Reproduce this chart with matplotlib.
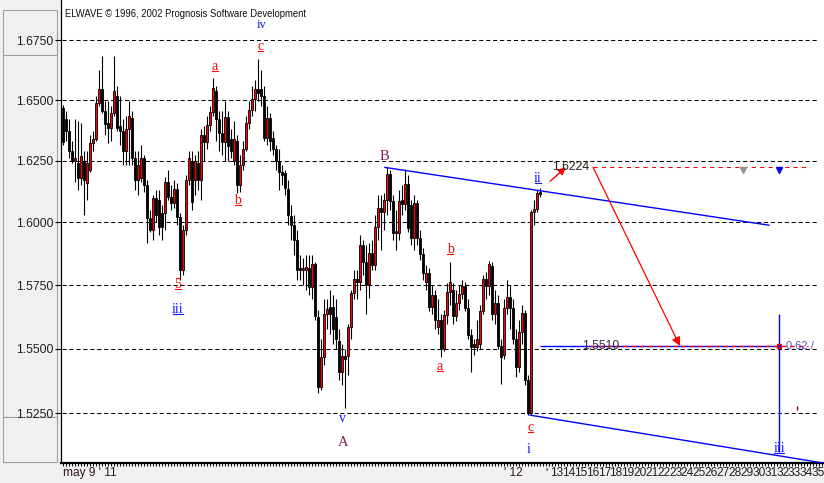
import numpy as np
import matplotlib
matplotlib.use("Agg")
import matplotlib.pyplot as plt
from matplotlib.patches import Rectangle
from matplotlib.lines import Line2D
from matplotlib.transforms import IdentityTransform
from matplotlib.ticker import NullLocator, FixedLocator

plt.rcParams['lines.scale_dashes'] = False

# ---------------- data ----------------
opens = [
    1.6468, 1.6423, 1.6374, 1.6292, 1.6251, 1.6243, 1.6179, 1.6251, 1.6159, 1.6211,
    1.6321, 1.6341, 1.6489, 1.6548, 1.6456, 1.6407, 1.6386, 1.6448, 1.6518, 1.6394,
    1.6374, 1.6292, 1.6382, 1.6427, 1.6260, 1.6171, 1.6179, 1.6260, 1.6150, 1.6017,
    1.5969, 1.6098, 1.6090, 1.6038, 1.6038, 1.6163, 1.6102, 1.6078, 1.6134, 1.6022,
    1.5811, 1.5969, 1.6171, 1.6251, 1.6171, 1.6243, 1.6171, 1.6354, 1.6325, 1.6399,
    1.6452, 1.6539, 1.6423, 1.6362, 1.6325, 1.6431, 1.6341, 1.6251, 1.6333, 1.6150,
    1.6231, 1.6300, 1.6407, 1.6460, 1.6505, 1.6548, 1.6548, 1.6518, 1.6345, 1.6427,
    1.6345, 1.6300, 1.6251, 1.6203, 1.6199, 1.6134, 1.6026, 1.5989, 1.5930, 1.5819,
    1.5811, 1.5811, 1.5819, 1.5743, 1.5834, 1.5622, 1.5353, 1.5466, 1.5634, 1.5665,
    1.5665, 1.5622, 1.5528, 1.5411, 1.5470, 1.5470, 1.5583, 1.5720, 1.5775, 1.5763,
    1.5910, 1.5842, 1.5751, 1.5878, 1.5830, 1.5981, 1.6058, 1.6042, 1.6090, 1.6195,
    1.6086, 1.5965, 1.5958, 1.6090, 1.6074, 1.6155, 1.6070, 1.5938, 1.6078, 1.5938,
    1.5874, 1.5763, 1.5799, 1.5665, 1.5712, 1.5583, 1.5614, 1.5497, 1.5630, 1.5724,
    1.5732, 1.5626, 1.5681, 1.5716, 1.5747, 1.5661, 1.5552, 1.5520, 1.5505, 1.5517,
    1.5646, 1.5775, 1.5747, 1.5826, 1.5634, 1.5681, 1.5509, 1.5477, 1.5661, 1.5704,
    1.5661, 1.5536, 1.5427, 1.5564, 1.5638, 1.5380, 1.5251, 1.6042, 1.6054, 1.6122,
]
highs = [
    1.6480, 1.6456, 1.6423, 1.6333, 1.6423, 1.6415, 1.6407, 1.6292, 1.6292, 1.6354,
    1.6374, 1.6518, 1.6624, 1.6683, 1.6497, 1.6497, 1.6476, 1.6683, 1.6560, 1.6518,
    1.6423, 1.6435, 1.6497, 1.6456, 1.6292, 1.6292, 1.6313, 1.6272, 1.6171, 1.6050,
    1.6110, 1.6130, 1.6130, 1.6070, 1.6183, 1.6211, 1.6150, 1.6171, 1.6159, 1.6038,
    1.5989, 1.6191, 1.6292, 1.6292, 1.6272, 1.6292, 1.6382, 1.6394, 1.6435, 1.6476,
    1.6594, 1.6560, 1.6456, 1.6456, 1.6497, 1.6456, 1.6382, 1.6415, 1.6354, 1.6272,
    1.6333, 1.6435, 1.6497, 1.6560, 1.6582, 1.6671, 1.6624, 1.6560, 1.6476, 1.6448,
    1.6374, 1.6313, 1.6300, 1.6231, 1.6211, 1.6171, 1.6070, 1.6030, 1.5969, 1.5870,
    1.5858, 1.5870, 1.5870, 1.5870, 1.5842, 1.5653, 1.5536, 1.5693, 1.5693, 1.5732,
    1.5712, 1.5693, 1.5575, 1.5517, 1.5497, 1.5595, 1.5732, 1.5811, 1.5811, 1.5950,
    1.5930, 1.5910, 1.5918, 1.5930, 1.6030, 1.6110, 1.6110, 1.6118, 1.6223, 1.6211,
    1.6110, 1.6050, 1.6130, 1.6150, 1.6215, 1.6191, 1.6090, 1.6110, 1.6090, 1.5969,
    1.5898, 1.5830, 1.5819, 1.5751, 1.5732, 1.5693, 1.5634, 1.5653, 1.5759, 1.5842,
    1.5759, 1.5732, 1.5751, 1.5771, 1.5763, 1.5693, 1.5575, 1.5536, 1.5614, 1.5673,
    1.5791, 1.5803, 1.5846, 1.5842, 1.5732, 1.5712, 1.5536, 1.5693, 1.5771, 1.5751,
    1.5693, 1.5575, 1.5614, 1.5673, 1.5653, 1.5399, 1.6050, 1.6090, 1.6130, 1.6138,
]
lows = [
    1.6313, 1.6333, 1.6260, 1.6243, 1.6163, 1.6130, 1.6150, 1.6030, 1.6090, 1.6203,
    1.6292, 1.6333, 1.6476, 1.6448, 1.6354, 1.6321, 1.6333, 1.6435, 1.6374, 1.6313,
    1.6231, 1.6231, 1.6231, 1.6231, 1.6130, 1.6110, 1.6163, 1.6122, 1.5918, 1.5961,
    1.5930, 1.6001, 1.5950, 1.5930, 1.5969, 1.6090, 1.6050, 1.6058, 1.5989, 1.5771,
    1.5791, 1.5950, 1.6150, 1.6050, 1.6110, 1.6130, 1.6090, 1.6251, 1.6300, 1.6374,
    1.6435, 1.6333, 1.6292, 1.6272, 1.6251, 1.6251, 1.6260, 1.6231, 1.6118, 1.6122,
    1.6211, 1.6292, 1.6382, 1.6435, 1.6456, 1.6497, 1.6476, 1.6333, 1.6313, 1.6292,
    1.6272, 1.6211, 1.6130, 1.6150, 1.6110, 1.5989, 1.5930, 1.5870, 1.5771, 1.5771,
    1.5751, 1.5732, 1.5712, 1.5693, 1.5614, 1.5329, 1.5341, 1.5438, 1.5575, 1.5556,
    1.5517, 1.5497, 1.5380, 1.5360, 1.5271, 1.5399, 1.5536, 1.5693, 1.5693, 1.5732,
    1.5791, 1.5634, 1.5700, 1.5811, 1.5811, 1.5930, 1.5890, 1.5969, 1.6030, 1.6050,
    1.5930, 1.5890, 1.5930, 1.6030, 1.6050, 1.5961, 1.5910, 1.5890, 1.5910, 1.5850,
    1.5771, 1.5732, 1.5646, 1.5634, 1.5575, 1.5556, 1.5466, 1.5489, 1.5595, 1.5673,
    1.5595, 1.5607, 1.5653, 1.5693, 1.5646, 1.5536, 1.5411, 1.5477, 1.5489, 1.5497,
    1.5634, 1.5693, 1.5712, 1.5614, 1.5595, 1.5497, 1.5364, 1.5458, 1.5634, 1.5575,
    1.5517, 1.5388, 1.5411, 1.5517, 1.5360, 1.5243, 1.5243, 1.5989, 1.6042, 1.6102,
]
closes = [
    1.6325, 1.6374, 1.6292, 1.6251, 1.6260, 1.6179, 1.6268, 1.6171, 1.6239, 1.6321,
    1.6341, 1.6489, 1.6548, 1.6456, 1.6403, 1.6386, 1.6448, 1.6539, 1.6386, 1.6374,
    1.6292, 1.6382, 1.6435, 1.6260, 1.6171, 1.6231, 1.6260, 1.6150, 1.6017, 1.5969,
    1.6098, 1.6030, 1.5981, 1.5981, 1.6163, 1.6102, 1.6078, 1.6134, 1.6022, 1.5811,
    1.5969, 1.6171, 1.6260, 1.6082, 1.6251, 1.6171, 1.6354, 1.6325, 1.6399, 1.6452,
    1.6552, 1.6423, 1.6362, 1.6325, 1.6431, 1.6309, 1.6292, 1.6341, 1.6150, 1.6231,
    1.6300, 1.6407, 1.6460, 1.6505, 1.6548, 1.6531, 1.6518, 1.6345, 1.6427, 1.6333,
    1.6300, 1.6251, 1.6203, 1.6191, 1.6138, 1.6030, 1.5989, 1.5930, 1.5811, 1.5811,
    1.5819, 1.5823, 1.5743, 1.5834, 1.5626, 1.5353, 1.5466, 1.5634, 1.5657, 1.5634,
    1.5575, 1.5536, 1.5411, 1.5470, 1.5458, 1.5583, 1.5720, 1.5775, 1.5763, 1.5910,
    1.5842, 1.5751, 1.5878, 1.5830, 1.5981, 1.6058, 1.6042, 1.6090, 1.6195, 1.6086,
    1.5958, 1.5958, 1.6086, 1.6074, 1.6155, 1.5977, 1.5938, 1.6078, 1.5938, 1.5874,
    1.5799, 1.5799, 1.5665, 1.5712, 1.5614, 1.5614, 1.5497, 1.5630, 1.5724, 1.5763,
    1.5626, 1.5681, 1.5716, 1.5747, 1.5661, 1.5552, 1.5505, 1.5505, 1.5536, 1.5646,
    1.5775, 1.5747, 1.5834, 1.5634, 1.5681, 1.5509, 1.5466, 1.5661, 1.5704, 1.5661,
    1.5536, 1.5427, 1.5564, 1.5638, 1.5380, 1.5251, 1.6042, 1.6054, 1.6118, 1.6114,
]

price_ticks = [1.6750, 1.6500, 1.6250, 1.6000, 1.5750, 1.5500, 1.5250]
future_days = list(range(13, 36))

target_level = 1.6224
fib_level = 1.5510
fib_text = "0.62 /"

# upper / lower channel end points (bar index, price)
upper_channel = [(107.3, 1.6223), (235.3, 1.5989)]
lower_channel = [(155.7, 1.5243), (253.7, 1.5060)]

# wave labels: text, bar index, price, colour, underlined
RED, BLUE, PURP = "#ff0000", "#1010ff", "#80205a"
wave_labels = [
    ("iv", 66.3, 1.6816, BLUE, False),
    ("c", 65.7, 1.6722, RED, True),
    ("a", 50.7, 1.6642, RED, True),
    ("b", 58.3, 1.6090, RED, True),
    ("5", 38.3, 1.5751, RED, True),
    ("iii", 38.3, 1.5653, BLUE, True),
    ("v", 93.3, 1.5232, BLUE, False),
    ("A", 93.3, 1.5137, PURP, False),
    ("B", 107.3, 1.6268, PURP, False),
    ("a", 125.7, 1.5430, RED, True),
    ("b", 129.0, 1.5890, RED, True),
    ("c", 155.7, 1.5197, RED, True),
    ("i", 155.3, 1.5110, BLUE, False),
    ("ii", 158.3, 1.6179, BLUE, True),
    ("iii", 238.7, 1.5114, BLUE, True),
]

# ---------------- figure ----------------
W, H = 824, 483
fig = plt.figure(figsize=(W / 100, H / 100), dpi=100, facecolor="#f0f0f0")

def px_x(x):
    return (x - 63) / 3.0

ax = fig.add_axes([61 / W, (H - 463) / H, (W - 61) / W, 463 / H])
ax.set_facecolor("white")
ax.set_yscale("log")
ax.set_ylim(1.50606, 1.69207)
ax.set_xlim(px_x(61), px_x(824))

o = np.array(opens); h = np.array(highs); l = np.array(lows); c = np.array(closes)
idx = np.arange(len(c))
up = c >= o

# grid
for p in price_ticks:
    ax.hlines(p, px_x(62), px_x(818), colors="black", linestyles=(0, (3, 2)), lw=0.75, zorder=1)

# candles
ax.vlines(idx, l, h, color="black", lw=0.8, zorder=2)
bot = np.minimum(o, c)
hgt = np.maximum(np.abs(c - o), 0.00012)
ax.bar(idx, hgt, bottom=bot, width=0.9, color=np.where(up, "#ff0000", "#000000"),
       edgecolor="black", linewidth=0.6, zorder=3)

# channels
ax.plot([upper_channel[0][0], upper_channel[1][0]], [upper_channel[0][1], upper_channel[1][1]],
        color="#0000ff", lw=1.0, zorder=4)
ax.plot([lower_channel[0][0], lower_channel[1][0]], [lower_channel[0][1], lower_channel[1][1]],
        color="#0000ff", lw=1.0, zorder=4)

# target level 1.6224
ax.hlines(target_level, px_x(593), px_x(810), colors="#ff0000", linestyles=(0, (3, 3)), lw=0.75, zorder=4)
ax.text(px_x(552), target_level, "1.6224", fontsize=8.8, family="Liberation Sans",
        color="#202010", ha="left", va="center", zorder=6)
ax.annotate("", xy=(px_x(568), 1.6231), xytext=(px_x(548), 1.6159),
            arrowprops=dict(arrowstyle="-|>", color="#ff0000", lw=1.0, mutation_scale=11), zorder=5)
ax.plot([px_x(743)], [1.6214], marker="v", color="#909090", ms=4.5, zorder=5)
ax.plot([px_x(779)], [1.6214], marker="v", color="#0000ff", ms=4.5, zorder=5)

# projected move down
ax.annotate("", xy=(px_x(680), fib_level), xytext=(px_x(593), target_level),
            arrowprops=dict(arrowstyle="-|>", color="#ff0000", lw=0.9, mutation_scale=13,
                            shrinkA=0, shrinkB=0), zorder=5)

# fib level 1.5510
ax.hlines(fib_level, px_x(540), px_x(780), colors="#0000ff", lw=1.0, zorder=4)
ax.hlines(fib_level, px_x(590), px_x(808), colors="#ff0000", linestyles=(0, (3, 3)), lw=1.0, zorder=4)
ax.text(px_x(582), fib_level, "1.5510", fontsize=8.8, family="Liberation Sans",
        color="#303040", ha="left", va="center", zorder=6)
ax.text(px_x(786), fib_level, fib_text, fontsize=8.0, family="Liberation Sans",
        color="#5050c0", ha="left", va="center", zorder=6)
ax.vlines(px_x(779), 1.5102, 1.5634, colors="#0000ff", lw=1.0, zorder=4)
ax.plot([px_x(779)], [fib_level], marker="s", color="#0000ff", mec="#ff0000", ms=3.5, zorder=6)
ax.plot([px_x(797)], [1.5272], marker="|", color="#800000", ms=3, zorder=6)

# wave labels
under = []
for txt, xi, pr, col, ul in wave_labels:
    size = 10.5 if txt in ("A", "B") else (9 if txt == "iv" else 10)
    t = ax.text(xi, pr, txt, fontsize=size, family="Liberation Serif", color=col,
                ha="center", va="center", zorder=7)
    if ul:
        under.append(t)

# axes styling
for s in ("top", "right"):
    ax.spines[s].set_visible(False)
ax.spines["left"].set_linewidth(0.9)
ax.spines["bottom"].set_linewidth(1.6)
ax.yaxis.set_major_locator(FixedLocator(price_ticks))
ax.yaxis.set_minor_locator(NullLocator())
ax.set_yticklabels([f"{p:.4f}" for p in price_ticks])
ax.tick_params(axis="y", which="major", direction="out", length=4.5, width=0.8,
               labelsize=8.8, labelcolor="#202020", pad=1)
for lab in ax.get_yticklabels():
    lab.set_family("Liberation Sans")
ax.xaxis.set_major_locator(NullLocator())
ax.xaxis.set_minor_locator(FixedLocator(np.arange(0, 254)))
ax.tick_params(axis="x", which="minor", direction="out", length=2.4, width=0.7)

# x labels
xt = ax.get_xaxis_transform()
ax.text(px_x(63), -0.008, "may 9 ' 11", transform=xt, fontsize=8.6, family="Liberation Sans",
        color="#301818", ha="left", va="top")
ax.text(px_x(504), -0.008, "' 12", transform=xt, fontsize=8.6, family="Liberation Sans",
        color="#301818", ha="left", va="top")
ax.text(px_x(545), -0.008, "'", transform=xt, fontsize=8.6, family="Liberation Sans",
        color="#301818", ha="left", va="top")
for k, d in enumerate(future_days):
    ax.text(px_x(550 + 11.9 * k), -0.008, str(d), transform=xt, fontsize=8.6,
            family="Liberation Sans", color="#202020", ha="left", va="top", clip_on=False)

# left panel boxes
for (x0, y0, x1, y1) in [(3, 10, 57, 55), (3, 55, 57, 417), (3, 417, 57, 462)]:
    fig.add_artist(Rectangle((x0, H - y1), x1 - x0, y1 - y0, transform=IdentityTransform(),
                             facecolor="#f0f0f0", edgecolor="#a0a0a0", lw=0.8, zorder=0))

# title
fig.text(65 / W, 1 - 14 / H, "ELWAVE \u00a9 1996, 2002 Prognosis Software Development",
         fontsize=6.85, family="Liberation Sans", color="#101010", ha="left", va="center")

# underlines
fig.canvas.draw()
r = fig.canvas.get_renderer()
for t in under:
    bb = t.get_window_extent(r)
    fig.add_artist(Line2D([bb.x0 + 0.5, bb.x1 - 0.5], [bb.y0 + 2, bb.y0 + 2],
                          transform=IdentityTransform(), color=t.get_color(), lw=0.8))

fig.savefig("out.png", dpi=100, facecolor=fig.get_facecolor())
